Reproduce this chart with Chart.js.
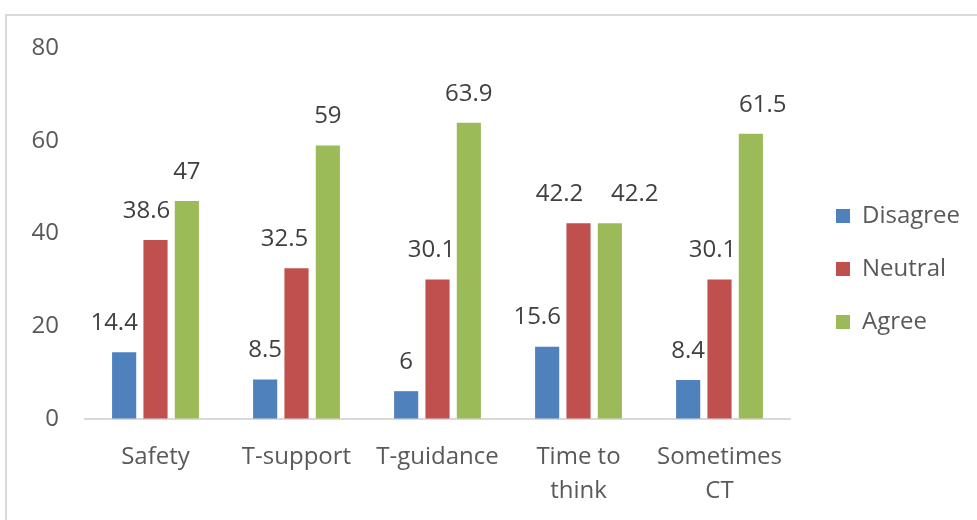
<!DOCTYPE html>
<html>
<head>
<meta charset="utf-8">
<script src="https://cdn.jsdelivr.net/npm/chart.js@4/dist/chart.umd.min.js"></script>
<style>
  html, body { margin: 0; padding: 0; background: #fff; overflow: hidden; width: 977px; height: 520px; }
  #frame { position: absolute; left: 5px; top: 14px; width: 1000px; height: 540px; border: 2px solid #d9d9d9; background: #fff; }
  #frame canvas { position: absolute; left: 0; top: 0; }
</style>
</head>
<body>
<div id="frame"><canvas id="survey"></canvas></div>
<script>
// Survey responses (%) per statement
const categories = ['Safety', 'T-support', 'T-guidance', ['Time to', 'think'], ['Sometimes', 'CT']];
const seriesNames = ['Disagree', 'Neutral', 'Agree'];
const disagree = [14.4, 8.5, 6, 15.6, 8.4];
const neutral = [38.6, 32.5, 30.1, 42.2, 30.1];
const agree = [47, 59, 63.9, 42.2, 61.5];
const yTicks = [0, 20, 40, 60, 80];

const seriesColors = ['#4F81BD', '#C0504D', '#9BBB59'];
const FONT = '"Open Sans", "Noto Sans", sans-serif';

// Horizontal nudges (px) for value labels that were moved off-centre to stay readable
const labelNudge = [
  [-10, 0, 0, -10, 0],
  [-9, -12, -6, -19, -7],
  [0, 0, 0, 25, 12]
];

// Value labels printed above each bar
const valueLabels = {
  id: 'valueLabels',
  afterDatasetsDraw(chart) {
    const ctx = chart.ctx;
    ctx.save();
    ctx.font = '24px ' + FONT;
    ctx.fillStyle = '#404040';
    ctx.textAlign = 'center';
    ctx.textBaseline = 'middle';
    chart.data.datasets.forEach((ds, i) => {
      chart.getDatasetMeta(i).data.forEach((bar, j) => {
        ctx.fillText(String(ds.data[j]), bar.x + labelNudge[i][j], bar.y - 29);
      });
    });
    ctx.restore();
  }
};

const canvas = document.getElementById('survey');
canvas.width = 970; canvas.height = 506;
canvas.style.width = '970px'; canvas.style.height = '506px';

const hiddenAxis = size => ({
  display: true,
  grid: { display: false, drawTicks: false },
  border: { display: false },
  ticks: { display: false },
  afterFit: s => { if (s.isHorizontal()) s.height = size; else s.width = size; }
});

new Chart(canvas, {
  type: 'bar',
  data: {
    labels: categories,
    datasets: [disagree, neutral, agree].map((values, i) => ({
      label: seriesNames[i],
      data: values,
      backgroundColor: seriesColors[i],
      borderWidth: 0,
      categoryPercentage: 0.667,
      barPercentage: 0.77
    }))
  },
  options: {
    responsive: false,
    animation: false,
    devicePixelRatio: 1,
    layout: { padding: { left: 0, top: 0, right: 10, bottom: 0 } },
    plugins: {
      legend: {
        position: 'right',
        labels: {
          boxWidth: 14,
          boxHeight: 14,
          padding: 29,
          color: '#595959',
          font: { family: FONT, size: 24 }
        }
      },
      tooltip: { enabled: false }
    },
    scales: {
      x: {
        grid: { display: false, drawTicks: false },
        border: { display: true, color: '#d9d9d9', width: 2 },
        ticks: {
          color: '#595959',
          padding: 21,
          font: { family: FONT, size: 24, lineHeight: 1.42 },
          maxRotation: 0,
          autoSkip: false
        },
        afterFit: s => { s.height = 103; }
      },
      y: {
        min: 0,
        max: 80,
        grid: { display: true, drawOnChartArea: false, drawTicks: true, tickLength: 20, color: 'rgba(0,0,0,0)' },
        border: { display: false },
        afterBuildTicks: s => { s.ticks = yTicks.map(v => ({ value: v })); },
        ticks: {
          color: '#595959',
          padding: 6,
          font: { family: FONT, size: 24 }
        },
        afterFit: s => { s.width = 78; }
      },
      // empty bands: space above the plot and between the plot and the legend
      topBand: Object.assign({ axis: 'x', position: 'top' }, hiddenAxis(32)),
      sideBand: Object.assign({ axis: 'y', position: 'right' }, hiddenAxis(17))
    }
  },
  plugins: [valueLabels]
});
</script>
</body>
</html>
